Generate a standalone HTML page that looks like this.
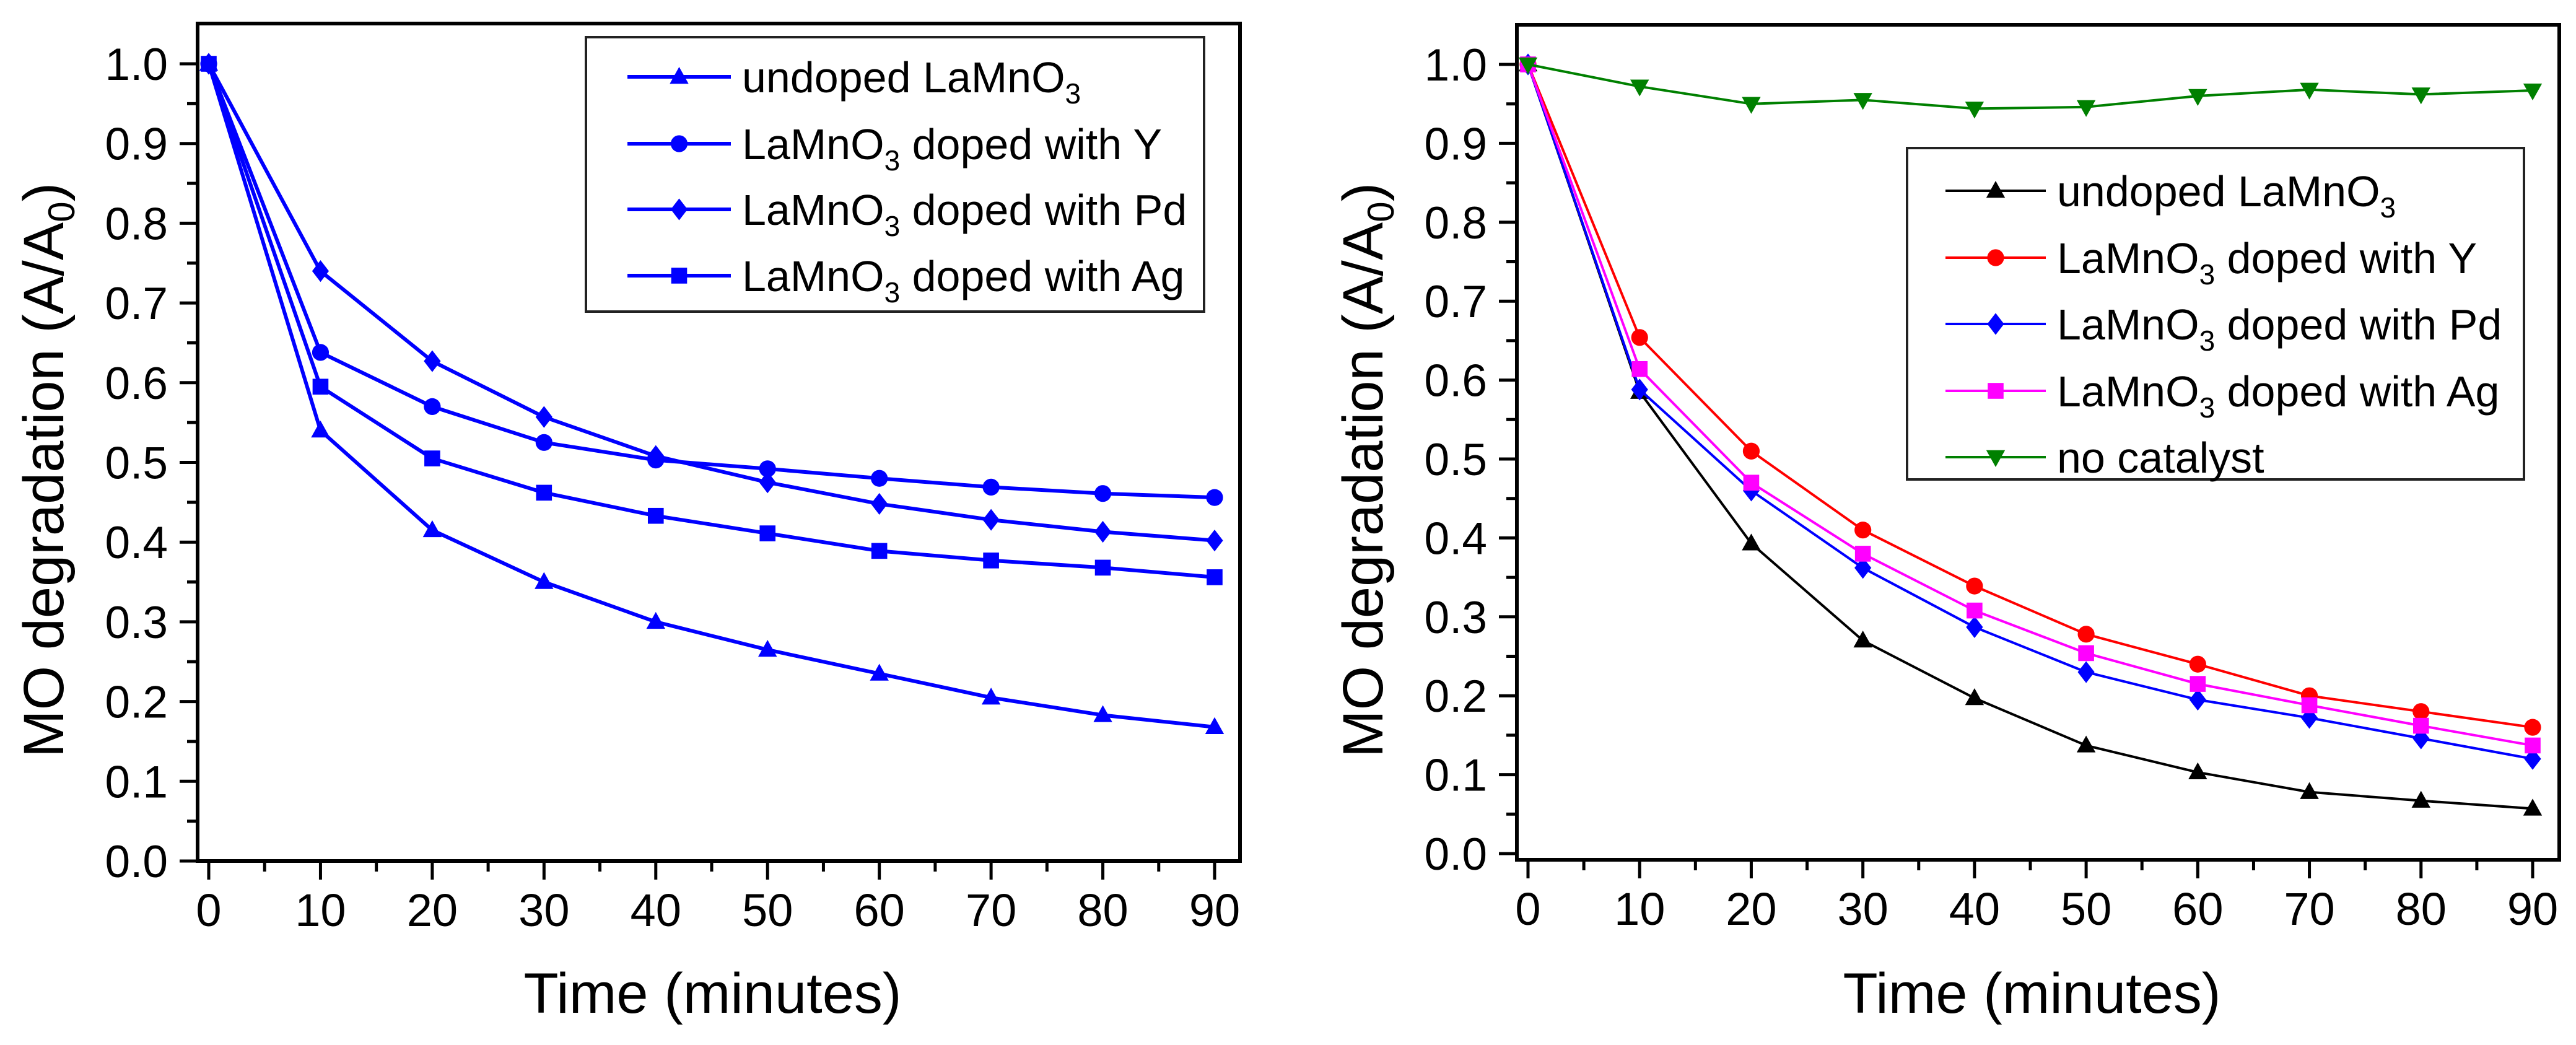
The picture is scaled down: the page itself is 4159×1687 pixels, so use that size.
<!DOCTYPE html>
<html><head><meta charset="utf-8">
<style>
html,body{margin:0;padding:0;background:#fff;}
svg{display:block;font-family:"Liberation Sans",Arial,sans-serif;}
</style></head>
<body>
<svg id="fig" width="4159" height="1687" viewBox="0 0 4159 1687" xmlns="http://www.w3.org/2000/svg">
<rect width="4159" height="1687" fill="#fff"/>
</svg>
<script>
const times = [0,10,20,30,40,50,60,70,80,90];
const xTicks = [0,10,20,30,40,50,60,70,80,90];
const yTicks = [0.0,0.1,0.2,0.3,0.4,0.5,0.6,0.7,0.8,0.9,1.0];
// left panel series
const leftUndoped = [1,0.54,0.415,0.35,0.30,0.265,0.235,0.205,0.183,0.168];
const leftY = [1,0.638,0.57,0.525,0.503,0.492,0.48,0.469,0.461,0.456];
const leftPd = [1,0.74,0.627,0.557,0.508,0.475,0.448,0.428,0.413,0.402];
const leftAg = [1,0.595,0.505,0.462,0.433,0.411,0.389,0.377,0.368,0.356];
// right panel series
const rightUndoped = [1,0.585,0.393,0.27,0.197,0.137,0.103,0.078,0.067,0.057];
const rightY = [1,0.654,0.51,0.41,0.339,0.278,0.24,0.2,0.18,0.16];
const rightPd = [1,0.588,0.46,0.362,0.287,0.23,0.195,0.172,0.146,0.12];
const rightAg = [1,0.614,0.47,0.38,0.308,0.254,0.215,0.188,0.162,0.137];
const rightNone = [1,0.972,0.95,0.955,0.944,0.946,0.96,0.968,0.962,0.967];

const NS = "http://www.w3.org/2000/svg";
const svg = document.getElementById('fig');
function el(tag, attrs, parent){
  const e = document.createElementNS(NS, tag);
  for (const k in attrs) e.setAttribute(k, attrs[k]);
  (parent||svg).appendChild(e);
  return e;
}

function marker(g, type, cx, cy, color, s){
  let m;
  if (type==='tri') m = el('polygon',{points:`${cx},${cy-s} ${cx-s*0.95},${cy+s*0.7} ${cx+s*0.95},${cy+s*0.7}`,fill:color},g);
  else if (type==='dtri') m = el('polygon',{points:`${cx},${cy+s} ${cx-s*0.95},${cy-s*0.7} ${cx+s*0.95},${cy-s*0.7}`,fill:color},g);
  else if (type==='circ') m = el('circle',{cx:cx,cy:cy,r:s*0.85,fill:color},g);
  else if (type==='diam') m = el('polygon',{points:`${cx},${cy-s*1.1} ${cx+s*0.85},${cy} ${cx},${cy+s*1.1} ${cx-s*0.85},${cy}`,fill:color},g);
  else m = el('rect',{x:cx-s*0.8,y:cy-s*0.8,width:s*1.6,height:s*1.6,fill:color},g);
  return m;
}

function panel(cfg){
  const g = el('g',{});
  
  
  const xs = v => cfg.x0 + (v-0)/90*(cfg.x90-cfg.x0);
  const ys = v => cfg.y0 - v*(cfg.y0-cfg.y1);
  xTicks.forEach((t,i)=>{
    const x = xs(t);
    const tk = el('line',{x1:x,y1:cfg.bottom,x2:x,y2:cfg.bottom+30,stroke:'#000','stroke-width':5},g);
    
    
    if (i<xTicks.length-1){
      const xm = xs(t+5);
      el('line',{x1:xm,y1:cfg.bottom,x2:xm,y2:cfg.bottom+17,stroke:'#000','stroke-width':5},g);
    }
    const lb = el('text',{x:x,y:cfg.bottom+105,'font-size':74,'text-anchor':'middle',fill:'#000'},g);
    lb.textContent = String(t);
    
    
  });
  yTicks.forEach((t,i)=>{
    const y = ys(t);
    el('line',{x1:cfg.left-29,y1:y,x2:cfg.left,y2:y,stroke:'#000','stroke-width':5},g);
    if (i<yTicks.length-1){
      const ym = ys(t+0.05);
      el('line',{x1:cfg.left-17,y1:ym,x2:cfg.left,y2:ym,stroke:'#000','stroke-width':5},g);
    }
    const lb = el('text',{x:cfg.left-48,y:y+26,'font-size':73,'text-anchor':'end',fill:'#000'},g);
    lb.textContent = t.toFixed(1);
    
    
  });
  // legend (drawn before series so box doesn't hide data)
  const L = cfg.legend;
  const lg = el('g',{},g);
  
  
  el('rect',{x:L.x,y:L.y,width:L.w,height:L.h,fill:'#fff',stroke:'#222','stroke-width':4},lg);
  cfg.series.forEach((s,i)=>{
    const ey = L.rows[i];
    const eg = el('g',{},lg);
    
    
    el('line',{x1:L.lx1,y1:ey,x2:L.lx2,y2:ey,stroke:s.color,'stroke-width':cfg.lw},eg);
    marker(eg,s.mk,(L.lx1+L.lx2)/2,ey,s.color,cfg.ms);
    const t = el('text',{x:L.tx,y:ey+25,'font-size':70,fill:'#000'},eg);
    if (s.label==='undoped'){
      t.appendChild(document.createTextNode('undoped LaMnO'));
      const sb = el('tspan',{'font-size':46,dy:18},t); sb.textContent='3';
    } else if (s.label==='none'){
      t.textContent='no catalyst';
    } else {
      t.appendChild(document.createTextNode('LaMnO'));
      const sb = el('tspan',{'font-size':46,dy:18},t); sb.textContent='3';
      const rest = el('tspan',{dy:-18},t); rest.textContent=' doped with '+s.label;
    }
  });
  cfg.series.forEach(s=>{
    const sg = el('g',{},g);
    
    
    const pts = s.data.map((v,i)=>xs(times[i])+','+ys(v)).join(' ');
    el('polyline',{points:pts,fill:'none',stroke:s.color,'stroke-width':cfg.lw,'stroke-linejoin':'round'},sg);
    s.data.forEach((v,i)=>{ marker(sg,s.mk,xs(times[i]),ys(v),s.color,cfg.ms); });
  });
  const fr = el('rect',{x:cfg.left,y:cfg.top,width:cfg.right-cfg.left,height:cfg.bottom-cfg.top,fill:'none',stroke:'#000','stroke-width':6},g);
  
  
  const xt = el('text',{x:(cfg.left+cfg.right)/2-10,y:1635,'font-size':92,'text-anchor':'middle',fill:'#000'},g);
  xt.textContent = 'Time (minutes)';
  
  
  const yt = el('text',{x:0,y:0,'font-size':92,transform:`translate(${cfg.left-217},1223) rotate(-90)`,fill:'#000'},g);
  
  
  yt.appendChild(document.createTextNode('MO degradation (A/A'));
  const sub = el('tspan',{'font-size':60,dy:18},yt); sub.textContent='0';
  const cl = el('tspan',{dy:-18},yt); cl.textContent=')';
}

panel({
  name:'left-chart', left:319, right:2002, top:38, bottom:1390,
  x0:337, x90:1961, y0:1390, y1:103, lw:6, ms:16,
  series:[
    {name:'series-undoped',data:leftUndoped,color:'#0000ff',mk:'tri',label:'undoped'},
    {name:'series-y',data:leftY,color:'#0000ff',mk:'circ',label:'Y'},
    {name:'series-pd',data:leftPd,color:'#0000ff',mk:'diam',label:'Pd'},
    {name:'series-ag',data:leftAg,color:'#0000ff',mk:'sq',label:'Ag'}
  ],
  legend:{x:946,y:60,w:998,h:443,rows:[124,232,338,445],lx1:1013,lx2:1180,tx:1198}
});
panel({
  name:'right-chart', left:2449, right:4132, top:40, bottom:1388,
  x0:2467, x90:4089, y0:1378, y1:104, lw:4, ms:16,
  series:[
    {name:'series-undoped',data:rightUndoped,color:'#000000',mk:'tri',label:'undoped'},
    {name:'series-y',data:rightY,color:'#ff0000',mk:'circ',label:'Y'},
    {name:'series-pd',data:rightPd,color:'#0000ff',mk:'diam',label:'Pd'},
    {name:'series-ag',data:rightAg,color:'#ff00ff',mk:'sq',label:'Ag'},
    {name:'series-no-catalyst',data:rightNone,color:'#008000',mk:'dtri',label:'none'}
  ],
  legend:{x:3079,y:239,w:996,h:535,rows:[308,416,523,631,738],lx1:3141,lx2:3303,tx:3321}
});
</script>
</body></html>
